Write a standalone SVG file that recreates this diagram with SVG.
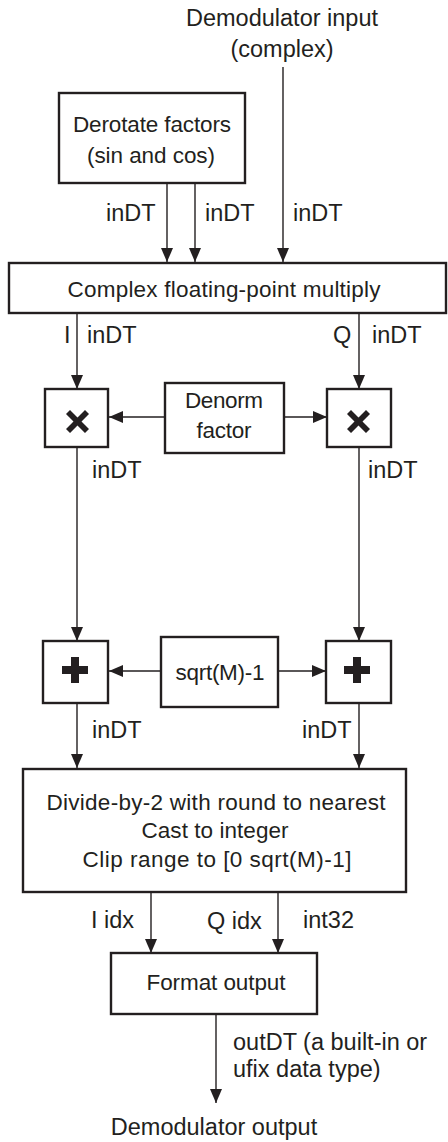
<svg xmlns="http://www.w3.org/2000/svg" width="448" height="1142" viewBox="0 0 448 1142">
<style>
.box{fill:#fff;stroke:#231f20;stroke-width:2.4}
.bt{font-family:"Liberation Sans",Arial,sans-serif;font-size:22.5px;fill:#231f20;text-anchor:middle}
.lt{font-family:"Liberation Sans",Arial,sans-serif;font-size:23.5px;fill:#231f20}
.c{stroke:#231f20;stroke-width:1.4;fill:none;marker-end:url(#ah)}
.sym{fill:#231f20}
</style>
<defs>
<marker id="ah" viewBox="0 0 14 12" refX="14" refY="6" markerWidth="14" markerHeight="12" markerUnits="userSpaceOnUse" orient="auto">
<path d="M0,0 L14,6 L0,12 z" fill="#231f20"/>
</marker>
</defs>
<rect width="448" height="1142" fill="#fff"/>
<g id="connectors">
<line class="c" x1="283" y1="67" x2="283" y2="262"/>
<line class="c" x1="167" y1="183" x2="167" y2="262"/>
<line class="c" x1="195" y1="183" x2="195" y2="262"/>
<line class="c" x1="77" y1="313" x2="77" y2="389"/>
<line class="c" x1="359" y1="313" x2="359" y2="389"/>
<line class="c" x1="165" y1="417" x2="109" y2="417"/>
<line class="c" x1="284" y1="417" x2="327" y2="417"/>
<line class="c" x1="77" y1="447" x2="77" y2="641"/>
<line class="c" x1="359" y1="447" x2="359" y2="641"/>
<line class="c" x1="161" y1="671" x2="109" y2="671"/>
<line class="c" x1="278" y1="671" x2="326" y2="671"/>
<line class="c" x1="77" y1="703" x2="77" y2="768"/>
<line class="c" x1="359" y1="703" x2="359" y2="768"/>
<line class="c" x1="151" y1="892" x2="151" y2="953"/>
<line class="c" x1="278" y1="892" x2="278" y2="953"/>
<line class="c" x1="216" y1="1014" x2="216" y2="1103"/>
</g>
<g id="labels">
<text class="lt" x="282" y="26" text-anchor="middle">Demodulator input</text>
<text class="lt" x="282" y="57" text-anchor="middle">(complex)</text>
<text class="lt" x="106" y="221">inDT</text>
<text class="lt" x="205" y="221">inDT</text>
<text class="lt" x="293" y="221">inDT</text>
<text class="lt" x="64" y="343">I</text>
<text class="lt" x="87" y="343">inDT</text>
<text class="lt" x="333" y="343">Q</text>
<text class="lt" x="372" y="343">inDT</text>
<text class="lt" x="92" y="478">inDT</text>
<text class="lt" x="368" y="478">inDT</text>
<text class="lt" x="92" y="738">inDT</text>
<text class="lt" x="302" y="738">inDT</text>
<text class="lt" x="91" y="928">I idx</text>
<text class="lt" x="207" y="929">Q idx</text>
<text class="lt" x="303" y="928">int32</text>
<text class="lt" x="233" y="1050">outDT (a built-in or</text>
<text class="lt" x="233" y="1077">ufix data type)</text>
<text class="lt" x="214" y="1135" text-anchor="middle">Demodulator output</text>
</g>
<g id="derotate">
<rect class="box" x="59" y="93" width="186" height="90"/>
<text class="bt" x="152" y="132" textLength="158">Derotate factors</text>
<text class="bt" x="151" y="163" textLength="128">(sin and cos)</text>
</g>
<g id="complex-multiply">
<rect class="box" x="9" y="263" width="437" height="50"/>
<text class="bt" x="224" y="297" textLength="313">Complex floating-point multiply</text>
</g>
<g id="mult-i">
<rect class="box" x="45" y="389" width="63" height="58"/>
<path class="sym" d="M70,410 L77.5,417.5 L85,410 L89,414 L81.5,421.5 L89,429 L85,433 L77.5,425.5 L70,433 L66,429 L73.5,421.5 L66,414 z"/>
</g>
<g id="denorm">
<rect class="box" x="165" y="383" width="119" height="70"/>
<text class="bt" x="224" y="408" textLength="78">Denorm</text>
<text class="bt" x="224" y="438" textLength="55">factor</text>
</g>
<g id="mult-q">
<rect class="box" x="327" y="389" width="64" height="58"/>
<path class="sym" d="M351,410 L358.5,417.5 L366,410 L370,414 L362.5,421.5 L370,429 L366,433 L358.5,425.5 L351,433 L347,429 L354.5,421.5 L347,414 z"/>
</g>
<g id="add-i">
<rect class="box" x="43" y="641" width="65" height="62"/>
<path class="sym" d="M71,657 L79,657 L79,666 L88,666 L88,674 L79,674 L79,683 L71,683 L71,674 L62,674 L62,666 L71,666 z"/>
</g>
<g id="sqrt">
<rect class="box" x="161" y="637" width="117" height="70"/>
<text class="bt" x="220" y="680" textLength="89">sqrt(M)-1</text>
</g>
<g id="add-q">
<rect class="box" x="326" y="641" width="65" height="62"/>
<path class="sym" d="M353,657 L361,657 L361,666 L370,666 L370,674 L361,674 L361,683 L353,683 L353,674 L344,674 L344,666 L353,666 z"/>
</g>
<g id="divide">
<rect class="box" x="23" y="769" width="383" height="123"/>
<text class="bt" x="216" y="810" textLength="339">Divide-by-2 with round to nearest</text>
<text class="bt" x="215" y="838" textLength="147">Cast to integer</text>
<text class="bt" x="217" y="867" textLength="269">Clip range to [0 sqrt(M)-1]</text>
</g>
<g id="format">
<rect class="box" x="111" y="953" width="206" height="61"/>
<text class="bt" x="216" y="990" textLength="139">Format output</text>
</g>
</svg>
